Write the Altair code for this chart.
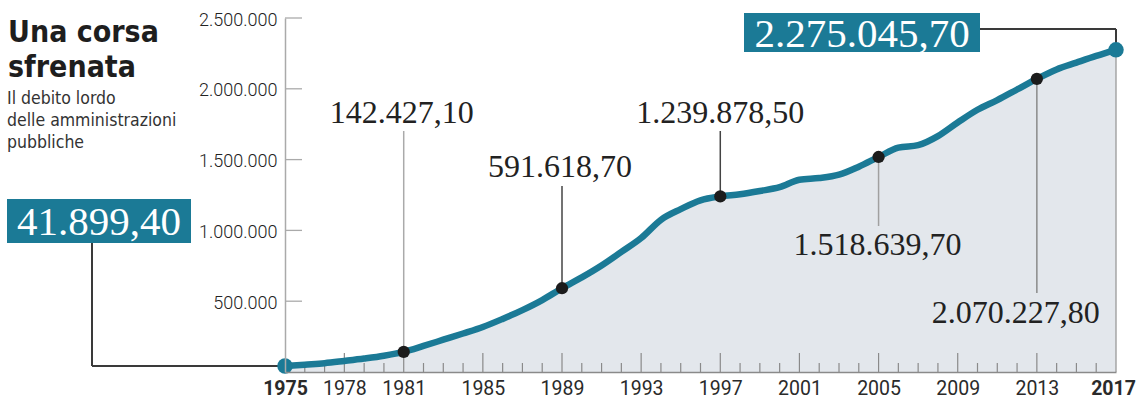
import altair as alt
import pandas as pd

# ---------------- data ----------------
years = list(range(1975, 2018))
debt = [41899.4, 52000, 62000, 78000, 95000, 115000, 142427.1, 184000, 228000,
        272000, 318000, 375000, 437000, 508000, 591618.7, 668000, 752000, 848000,
        946000, 1075000, 1150000, 1212000, 1239878.5, 1255000, 1278000, 1305000,
        1358000, 1370000, 1394000, 1450000, 1518639.7, 1584000, 1602000, 1666000,
        1762000, 1852000, 1920000, 1995000, 2070227.8, 2137000, 2185000, 2232000,
        2275045.7]
x_label_years = [1975, 1978, 1981, 1985, 1989, 1993, 1997, 2001, 2005, 2009, 2013, 2017]
long_tick_years = [1978, 1981, 1985, 1989, 1993, 1997, 2001, 2005, 2009, 2013]
y_tick_values = [500000, 1000000, 1500000, 2000000, 2500000]
highlight_years = [1981, 1989, 1997, 2005, 2013]
end_years = [1975, 2017]
title_lines = ["Una corsa", "sfrenata"]
subtitle_lines = ["Il debito lordo", "delle amministrazioni", "pubbliche"]


def it_fmt(v):
    s = f"{v:,.2f}"
    return s.replace(",", "X").replace(".", ",").replace("X", ".")


df = pd.DataFrame({"year": years, "debt": debt})
df["label"] = df["debt"].map(it_fmt)

# ---------------- style / layout ----------------
W, H = 831, 354
TEAL = "#1b7a96"
AREA = "#e3e7ec"
SERIF = "Liberation Serif"
SANS = "Roboto"
NARROW = "Liberation Sans Narrow, DejaVu Sans Condensed, Roboto"

xs = alt.Scale(domain=[1975, 2017], nice=False, zero=False)
ys = alt.Scale(domain=[0, 2500000], nice=False, zero=True)


def X(**kw):
    return alt.X("year:Q", scale=xs, title=None, **kw)


def Y(**kw):
    return alt.Y("debt:Q", scale=ys, title=None, **kw)


xaxis = alt.Axis(values=x_label_years, format="d", ticks=False, grid=False, title=None,
                 domainColor="#8a8a8a", domainWidth=1.5, labelFont=SANS, labelFontSize=19.5,
                 labelColor="#2a2a2a", labelPadding=7, labelFlush=False, labelOverlap=False,
                 labelFontWeight=alt.condition("datum.value == 1975 || datum.value == 2017",
                                               alt.value("bold"), alt.value("normal")),
                 labelOffset=alt.condition("datum.value == 2017", alt.value(-3), alt.value(0)),
                 zindex=1)
yaxis = alt.Axis(values=y_tick_values, ticks=False, grid=False, title=None,
                 labelExpr="replace(format(datum.value, ',d'), /,/g, '.')",
                 domainColor="#aaaaaa", domainWidth=1.5, labelFont=SANS, labelFontSize=18,
                 labelFontWeight=300, labelColor="#222222", labelPadding=8, labelOffset=2,
                 zindex=1)

layers = []

# area (carries the axes)
layers.append(alt.Chart(df).mark_area(color=AREA, interpolate="monotone").encode(
    x=alt.X("year:Q", scale=xs, axis=xaxis, title=None),
    y=alt.Y("debt:Q", scale=ys, axis=yaxis, title=None)))

# right border of the area
layers.append(alt.Chart(df[df.year == 2017]).mark_rule(color="#9a9a9a", strokeWidth=1.3).encode(
    x=X(), y=Y(), y2=alt.datum(0)))

# x ticks (pointing up)
short_years = [y for y in range(1976, 2017) if y not in long_tick_years]
layers.append(alt.Chart(pd.DataFrame({"year": short_years})).mark_rule(
    color="#8a8a8a", strokeWidth=1.2).encode(x=X(), y=alt.datum(0), y2=alt.value(H - 9)))
layers.append(alt.Chart(pd.DataFrame({"year": long_tick_years})).mark_rule(
    color="#8a8a8a", strokeWidth=1.2).encode(x=X(), y=alt.datum(0), y2=alt.value(H - 19)))

# y ticks (pointing right)
layers.append(alt.Chart(pd.DataFrame({"debt": y_tick_values})).mark_rule(
    color="#aaaaaa", strokeWidth=1.3).encode(y=Y(), x=alt.value(0), x2=alt.value(17)))

# leaders for highlighted years: (year, text baseline y, text dx, leader end y, colour)
ann = [
    (1981, 105, -2, 113, "#aaaaaa"),
    (1989, 159, -2, 168, "#444444"),
    (1997, 105, 0, 113, "#444444"),
    (2005, 237, -1, 208, "#a0a0a0"),
    (2013, 305, -21, 275, "#8a8a8a"),
]
for yr, ty, dx, ly, col in ann:
    d = df[df.year == yr]
    layers.append(alt.Chart(d).mark_rule(color=col, strokeWidth=1.5).encode(
        x=X(), y=Y(), y2=alt.value(ly)))
    layers.append(alt.Chart(d).mark_text(font=SERIF, fontSize=32, color="#222222",
                                         align="center", baseline="alphabetic", dx=dx).encode(
        x=X(), y=alt.value(ty), text="label:N"))

# leaders for the end values
d75 = df[df.year == 1975]
d17 = df[df.year == 2017]
layers.append(alt.Chart(d75).mark_rule(color="#3a3a3a", strokeWidth=2).encode(
    x=alt.value(-193), y=Y(), y2=alt.value(225)))
layers.append(alt.Chart(d75).mark_rule(color="#3a3a3a", strokeWidth=2).encode(
    x=X(), x2=alt.value(-193), y=Y()))
layers.append(alt.Chart(d17).mark_rule(color="#3a3a3a", strokeWidth=2).encode(
    x=X(), x2=alt.value(695), y=alt.value(11)))
layers.append(alt.Chart(d17).mark_rule(color="#3a3a3a", strokeWidth=2).encode(
    x=X(), y=Y(), y2=alt.value(11)))

# line
layers.append(alt.Chart(df).mark_line(color=TEAL, strokeWidth=6.5, interpolate="monotone",
                                      strokeCap="round").encode(x=X(), y=Y()))

# points
layers.append(alt.Chart(df[df.year.isin(highlight_years)]).mark_circle(
    color="#1c1c1c", size=150, opacity=1).encode(x=X(), y=Y()))
layers.append(alt.Chart(df[df.year.isin(end_years)]).mark_circle(
    color=TEAL, size=240, opacity=1).encode(x=X(), y=Y()))

# end value boxes
layers.append(alt.Chart(d75).mark_rect(color=TEAL).encode(
    x=alt.value(-278), x2=alt.value(-94), y=alt.value(181), y2=alt.value(225)))
layers.append(alt.Chart(d75).mark_text(font=SERIF, fontSize=41, color="white",
                                       align="center", baseline="alphabetic").encode(
    x=alt.value(-186), y=alt.value(217), text="label:N"))
layers.append(alt.Chart(d17).mark_rect(color=TEAL).encode(
    x=alt.value(459), x2=alt.value(695), y=alt.value(-5), y2=alt.value(34)))
layers.append(alt.Chart(d17).mark_text(font=SERIF, fontSize=41, color="white",
                                       align="center", baseline="alphabetic").encode(
    x=alt.value(577), y=alt.value(29), text="label:N"))

# title and subtitle
for i, t in enumerate(title_lines):
    layers.append(alt.Chart(pd.DataFrame({"t": [t]})).mark_text(
        font=NARROW, fontSize=30, fontWeight="bold", color="#1e1e1e",
        align="left", baseline="alphabetic").encode(
        x=alt.value(-277), y=alt.value(24 + 35 * i), text="t:N"))
for i, t in enumerate(subtitle_lines):
    layers.append(alt.Chart(pd.DataFrame({"t": [t]})).mark_text(
        font=NARROW, fontSize=17.5, color="#333333",
        align="left", baseline="alphabetic").encode(
        x=alt.value(-278), y=alt.value(86 + 22 * i), text="t:N"))

chart = alt.layer(*layers).properties(
    width=W, height=H, autosize="none",
    padding={"left": 285, "top": 18, "right": 21, "bottom": 27},
    background="white",
).configure_view(stroke=None)

chart.save("out.html", embed_options={"renderer": "svg", "actions": False})
